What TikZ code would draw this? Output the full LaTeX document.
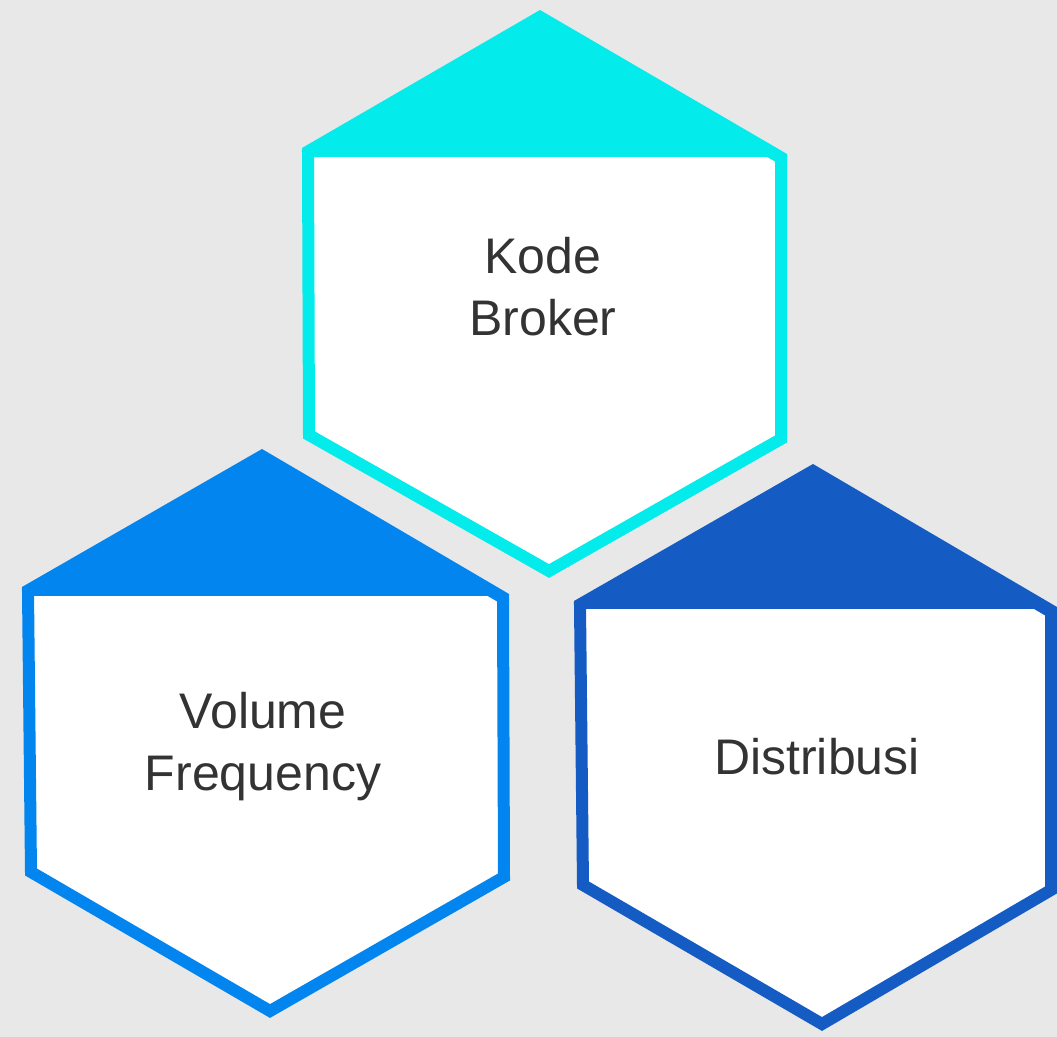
\documentclass[tikz,border=0pt]{standalone}
\usepackage{fontspec}
\setmainfont{Liberation Sans}
\usepackage{tikz}

\definecolor{bgray}{HTML}{E8E8E8}
\definecolor{hcyan}{HTML}{03EBEB}
\definecolor{hblue}{HTML}{0385F0}
\definecolor{hdark}{HTML}{145BC4}
\definecolor{txtgray}{HTML}{333333}

\begin{document}
\begin{tikzpicture}[x=0.5pt, y=-0.5pt,
    hexbody/.style={fill=white, line width=6pt, miter limit=10},
    hexlabel/.style={text=txtgray, align=center, font=\fontsize{25}{31}\selectfont}]
        \fill [bgray] (0,0) rectangle (1057,1037);         % background
        \useasboundingbox (0,0) rectangle (1057,1037);
        % top hexagon
        \draw [hexbody, draw=hcyan] (540,19) -- (308,153) -- (309,435) -- (549,571) -- (781,439) -- (781,158) -- cycle;
        \fill [hcyan] (540,10) -- (302,148) -- (302,157) -- (787,157) -- (787,154) -- cycle;
        % left hexagon
        \draw [hexbody, draw=hblue] (262,457) -- (28,591) -- (31,872) -- (270,1011) -- (504,877) -- (503,598) -- cycle;
        \fill [hblue] (262,449) -- (22,587) -- (22,596) -- (509,596) -- (509,594) -- cycle;
        % right hexagon
        \draw [hexbody, draw=hdark] (813,472) -- (580,605) -- (583,885) -- (822,1024) -- (1051,890) -- (1051,612) -- cycle;
        \fill [hdark] (813,464) -- (574,601) -- (574,609) -- (1057,609) -- (1057,607) -- cycle;
        % labels
        \node [hexlabel] (kode) at (543,287) {Kode\\Broker};
        \node [hexlabel] (volume) at (263,747) {Volume\\Frequency};
        \node [hexlabel] (distribusi) at (817,757) {Distribusi};
    \end{tikzpicture}
\end{document}
